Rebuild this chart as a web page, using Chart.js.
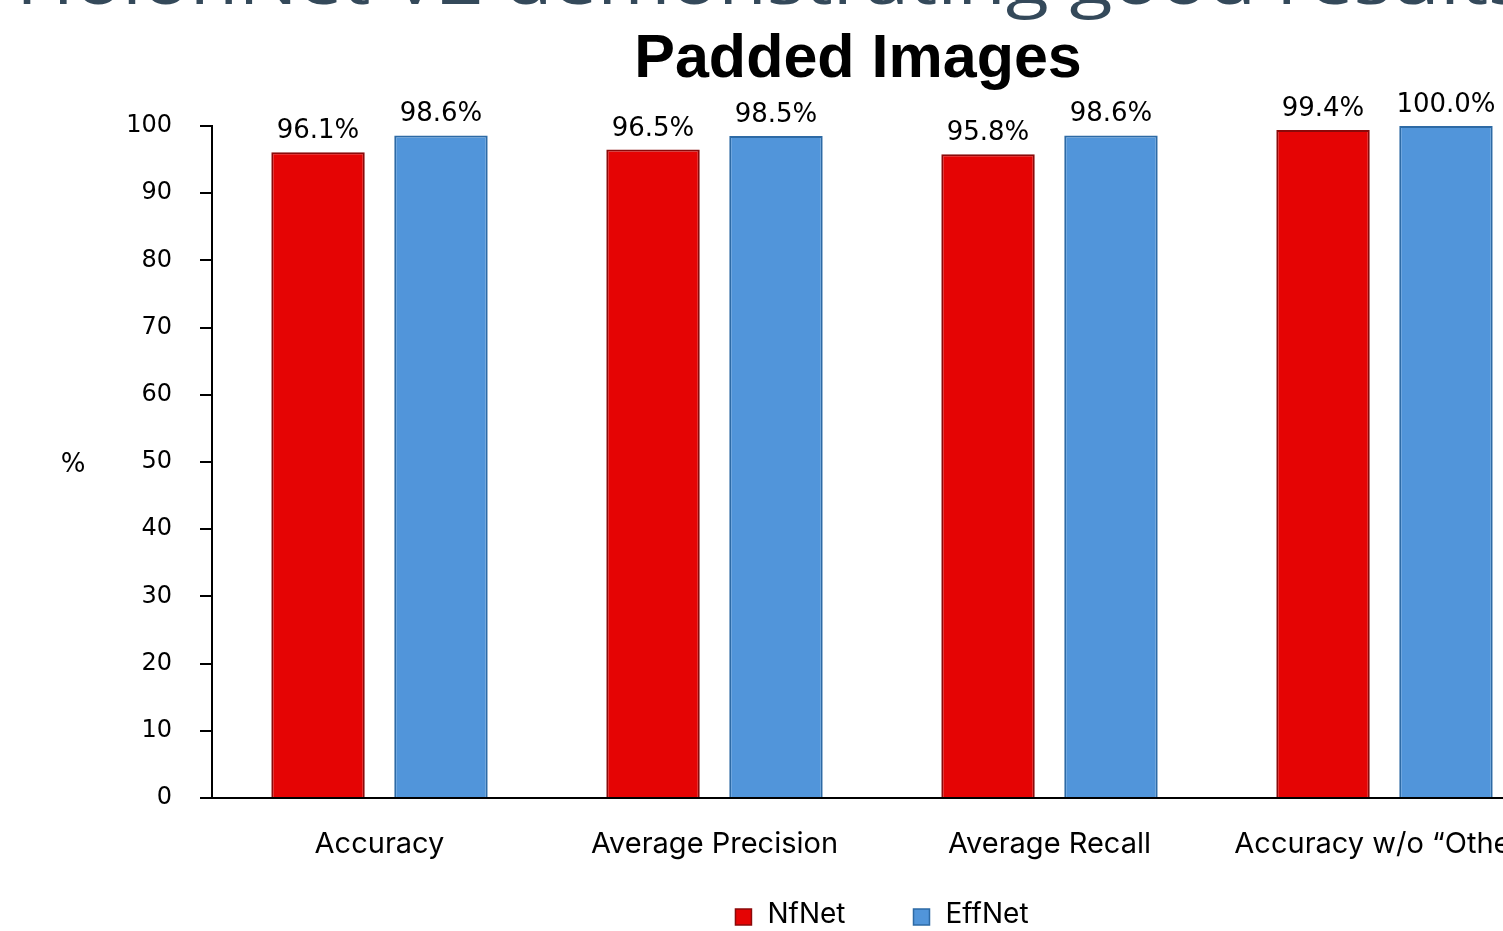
<!DOCTYPE html>
<html>
<head>
<meta charset="utf-8">
<script src="https://cdn.jsdelivr.net/npm/chart.js@4.4.1/dist/chart.umd.min.js"></script>
<style>
  html, body { margin: 0; padding: 0; background: #ffffff; overflow: hidden; }
  #wrap { position: absolute; left: 0; top: 0; width: 1620px; height: 931px; }
</style>
</head>
<body>
<div id="wrap"><canvas id="chart" width="1620" height="931"></canvas></div>
<script>
// Metric categories along the x axis
const categories = ['Accuracy', 'Average Precision', 'Average Recall', 'Accuracy w/o \u201COther\u201D'];
// Scores (%) per model
const nfnetValues = [96.1, 96.5, 95.8, 99.4];
const effnetValues = [98.6, 98.5, 98.6, 100.0];
const seriesNames = ['NfNet', 'EffNet'];
// Y axis ticks
const yTicks = [0, 10, 20, 30, 40, 50, 60, 70, 80, 90, 100];
const slideHeading = 'HolonNet V2 demonstrating good results';
const chartTitle = 'Padded Images';
const yAxisLabel = '%';

const RED = '#e50404';
const RED_EDGE = '#8a0a0a';
const BLUE = '#5195da';
const BLUE_EDGE = '#2d6aa5';

// Heading, title, axis label, legend and value labels
const decorations = {
  id: 'decorations',
  afterDraw(chart) {
    const ctx = chart.ctx;
    ctx.save();

    // slide heading (runs off the top edge)
    ctx.save();
    ctx.fillStyle = '#34495a';
    ctx.font = '66px "Open Sans"';
    ctx.textAlign = 'left';
    ctx.textBaseline = 'alphabetic';
    ctx.translate(16, 4);
    ctx.scale(1.2, 1);
    ctx.fillText(slideHeading, 0, 0);
    ctx.restore();

    // chart title
    ctx.fillStyle = '#000000';
    ctx.font = 'bold 61px "Liberation Sans"';
    ctx.textAlign = 'center';
    ctx.textBaseline = 'alphabetic';
    ctx.fillText(chartTitle, 858, 77);

    // y axis label
    ctx.font = '26px "DejaVu Sans"';
    ctx.textBaseline = 'middle';
    ctx.fillText(yAxisLabel, 73, 465);

    // legend
    ctx.font = '28px Inter';
    ctx.textAlign = 'left';
    const items = chart.data.datasets.map(ds => ({
      text: ds.label, fill: ds.backgroundColor, edge: ds.borderColor
    }));
    const box = 16, gapText = 16, gapItem = 68;
    let total = 0;
    items.forEach((it, i) => {
      it.w = box + gapText + ctx.measureText(it.text).width;
      total += it.w + (i ? gapItem : 0);
    });
    let x = 882 - total / 2;
    const ly = 915;
    items.forEach(it => {
      ctx.fillStyle = it.fill;
      ctx.strokeStyle = it.edge;
      ctx.lineWidth = 1.5;
      ctx.fillRect(x, 909, box, box);
      ctx.strokeRect(x, 909, box, box);
      ctx.fillStyle = '#000000';
      ctx.fillText(it.text, x + box + gapText, ly);
      x += it.w + gapItem;
    });

    // value labels above bars
    ctx.font = '26px "DejaVu Sans"';
    ctx.textAlign = 'center';
    ctx.textBaseline = 'alphabetic';
    ctx.fillStyle = '#000000';
    chart.data.datasets.forEach((ds, di) => {
      const meta = chart.getDatasetMeta(di);
      meta.data.forEach((bar, i) => {
        ctx.fillText(ds.data[i].toFixed(1) + '%', bar.x, bar.y - 14);
      });
    });
    ctx.restore();
  }
};

new Chart(document.getElementById('chart'), {
  type: 'bar',
  data: {
    labels: categories,
    datasets: [
      {
        label: seriesNames[0], data: nfnetValues,
        backgroundColor: RED, borderColor: RED_EDGE, borderWidth: 2,
        categoryPercentage: 0.734, barPercentage: 0.76
      },
      {
        label: seriesNames[1], data: effnetValues,
        backgroundColor: BLUE, borderColor: BLUE_EDGE, borderWidth: 2,
        categoryPercentage: 0.734, barPercentage: 0.76
      }
    ]
  },
  options: {
    responsive: false,
    devicePixelRatio: 1,
    animation: false,
    layout: { padding: { left: 100, right: 68, top: 126, bottom: 53 } },
    plugins: {
      legend: { display: false },
      title: { display: false },
      tooltip: { enabled: false }
    },
    scales: {
      x: {
        grid: { display: false },
        border: { display: true, color: '#000000', width: 2 },
        ticks: {
          color: '#000000', padding: 21, maxRotation: 0, autoSkip: false,
          font: { family: 'Inter', size: 29 }
        },
        afterFit(scale) { scale.height = 80; }
      },
      y: {
        min: 0, max: 100,
        afterBuildTicks(scale) { scale.ticks = yTicks.map(v => ({ value: v })); },
        grid: { drawOnChartArea: false, drawTicks: true, tickLength: 12, color: '#000000', lineWidth: 2 },
        border: { display: true, color: '#000000', width: 2 },
        ticks: {
          color: '#000000', padding: 28,
          font: { family: 'DejaVu Sans', size: 24 }
        },
        afterFit(scale) { scale.width = 112; }
      }
    }
  },
  plugins: [decorations]
});
</script>
</body>
</html>
